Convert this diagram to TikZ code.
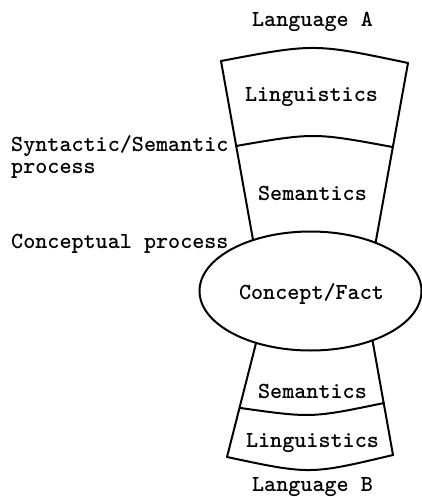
\documentclass[tikz,border=0pt]{standalone}
\usetikzlibrary{shapes.geometric}
\tikzset{
  lbl/.style={font=\fontsize{23}{26}\selectfont\ttfamily\bfseries, inner sep=0pt, anchor=base},
  lbll/.style={lbl, anchor=base west},
  stroke/.style={line width=2pt, line join=round, line cap=round},
}
\begin{document}
\begin{tikzpicture}[x=1pt,y=-1pt]
\useasboundingbox (0,0) rectangle (422,497);
% ellipse
\node[ellipse, draw, stroke, minimum width=222pt, minimum height=119pt, inner sep=0pt] (concept) at (310.5,291) {};
\node[lbl] (conceptlbl) at (311.5,299) {Concept/Fact};
% upper trapezoid
\coordinate (tl) at (221,61);
\coordinate (tr) at (408,63);
\coordinate (ml) at (236,146);
\coordinate (mr) at (392.5,147);
\draw[stroke] (tl) .. controls (314.5,43.3) .. (tr);
\draw[stroke] (ml) .. controls (314,132.5) .. (mr);
\draw[stroke] (tl) -- (concept.138.4);
\draw[stroke] (tr) -- (concept.37.2);
% lower trapezoid
\coordinate (bl) at (227,457);
\coordinate (br) at (393,455);
\coordinate (dl) at (240.5,408);
\coordinate (dr) at (384,403);
\draw[stroke] (concept.224.2) -- (bl);
\draw[stroke] (concept.321.5) -- (br);
\draw[stroke] (dl) .. controls (311.5,418) .. (dr);
\draw[stroke] (bl) .. controls (310,474.7) .. (br);
% labels
\node[lbl] (langA) at (312.5,27) {Language A};
\node[lbl] (ling1) at (311.5,102) {Linguistics};
\node[lbl] (sem1) at (312.5,200) {Semantics};
\node[lbl] (sem2) at (312.5,398) {Semantics};
\node[lbl] (ling2) at (312.5,447) {Linguistics};
\node[lbl] (langB) at (312.5,491) {Language B};
\node[lbll] (syn) at (11,151) {Syntactic/Semantic};
\node[lbll] (proc) at (11,173) {process};
\node[lbll] (conc) at (11,248) {Conceptual process};
\end{tikzpicture}
\end{document}
